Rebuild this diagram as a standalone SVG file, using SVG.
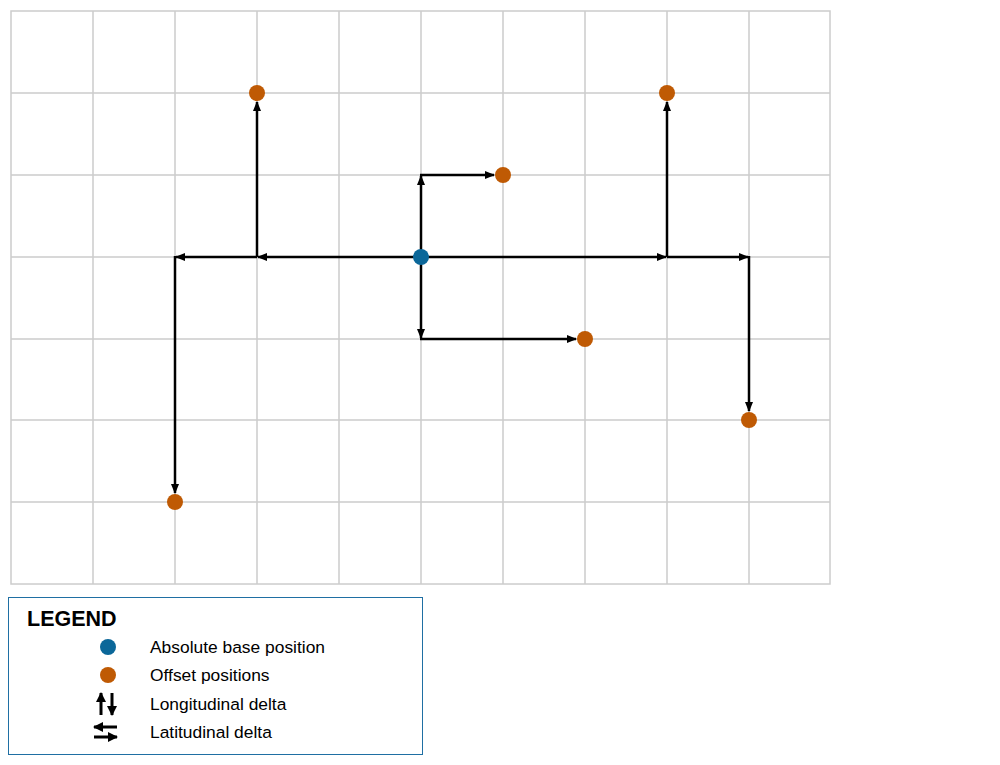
<svg xmlns="http://www.w3.org/2000/svg" width="1000" height="765" viewBox="0 0 1000 765">
<style>
.grid{stroke:#cccccc;stroke-width:1.5;fill:none}
.a{stroke:#000;stroke-width:2.5;fill:none;marker-end:url(#ah)}
.b{stroke:#000;stroke-width:3;fill:none;marker-end:url(#ah2)}
.base{fill:#0b6799}
.off{fill:#bf5a04}
.t{font-family:"Liberation Sans",Arial,sans-serif;font-size:17.4px;fill:#000}
.h{font-family:"Liberation Sans",Arial,sans-serif;font-size:21.5px;font-weight:bold;fill:#000}
</style>
<defs>
<marker id="ah" viewBox="0 0 10 8" refX="9" refY="4" markerWidth="10" markerHeight="8" markerUnits="userSpaceOnUse" orient="auto">
<path d="M0,0 L10,4 L0,8 Z" fill="#000"/>
</marker>
<marker id="ah2" viewBox="0 0 10 10" refX="9" refY="5" markerWidth="10" markerHeight="10" markerUnits="userSpaceOnUse" orient="auto">
<path d="M0,0 L10,5 L0,10 Z" fill="#000"/>
</marker>
</defs>
<rect width="1000" height="765" fill="#fff"/>
<g id="grid" class="grid">
<rect x="11" y="11" width="819" height="573"/>
<path d="M93,11V584M175,11V584M257,11V584M339,11V584M421,11V584M503,11V584M585,11V584M667,11V584M749,11V584"/>
<path d="M11,93H830M11,175H830M11,257H830M11,339H830M11,420H830M11,502H830"/>
</g>
<g id="connectors">
<line class="a" x1="421" y1="257" x2="258" y2="257"/>
<line class="a" x1="257" y1="257" x2="176" y2="257"/>
<line class="a" x1="175" y1="256" x2="175" y2="493"/>
<line class="a" x1="257" y1="257" x2="257" y2="102"/>
<line class="a" x1="421" y1="257" x2="421" y2="176"/>
<line class="a" x1="420" y1="175" x2="494" y2="175"/>
<line class="a" x1="421" y1="257" x2="421" y2="338"/>
<line class="a" x1="420" y1="339" x2="576" y2="339"/>
<line class="a" x1="421" y1="257" x2="666" y2="257"/>
<line class="a" x1="667" y1="257" x2="748" y2="257"/>
<line class="a" x1="749" y1="256" x2="749" y2="411"/>
<line class="a" x1="667" y1="257" x2="667" y2="102"/>
</g>
<g id="base"><circle class="base" cx="421" cy="257" r="8"/></g>
<g id="off1"><circle class="off" cx="257" cy="93" r="8"/></g>
<g id="off2"><circle class="off" cx="667" cy="93" r="8"/></g>
<g id="off3"><circle class="off" cx="503" cy="175" r="8"/></g>
<g id="off4"><circle class="off" cx="585" cy="339" r="8"/></g>
<g id="off5"><circle class="off" cx="749" cy="420" r="8"/></g>
<g id="off6"><circle class="off" cx="175" cy="502" r="8"/></g>
<g id="legend">
<rect x="8.5" y="597.5" width="414" height="157" fill="#fff" stroke="#1f6fa3" stroke-width="1"/>
<text class="h" x="27" y="626">LEGEND</text>
<circle class="base" cx="108" cy="647" r="8"/>
<text class="t" x="150" y="653">Absolute base position</text>
<circle class="off" cx="108" cy="675" r="8"/>
<text class="t" x="150" y="681">Offset positions</text>
<line class="b" x1="101" y1="715" x2="101" y2="693"/>
<line class="b" x1="112" y1="693" x2="112" y2="715"/>
<text class="t" x="150" y="710">Longitudinal delta</text>
<line class="b" x1="117" y1="727" x2="94" y2="727"/>
<line class="b" x1="94" y1="737" x2="117" y2="737"/>
<text class="t" x="150" y="738">Latitudinal delta</text>
</g>
</svg>
